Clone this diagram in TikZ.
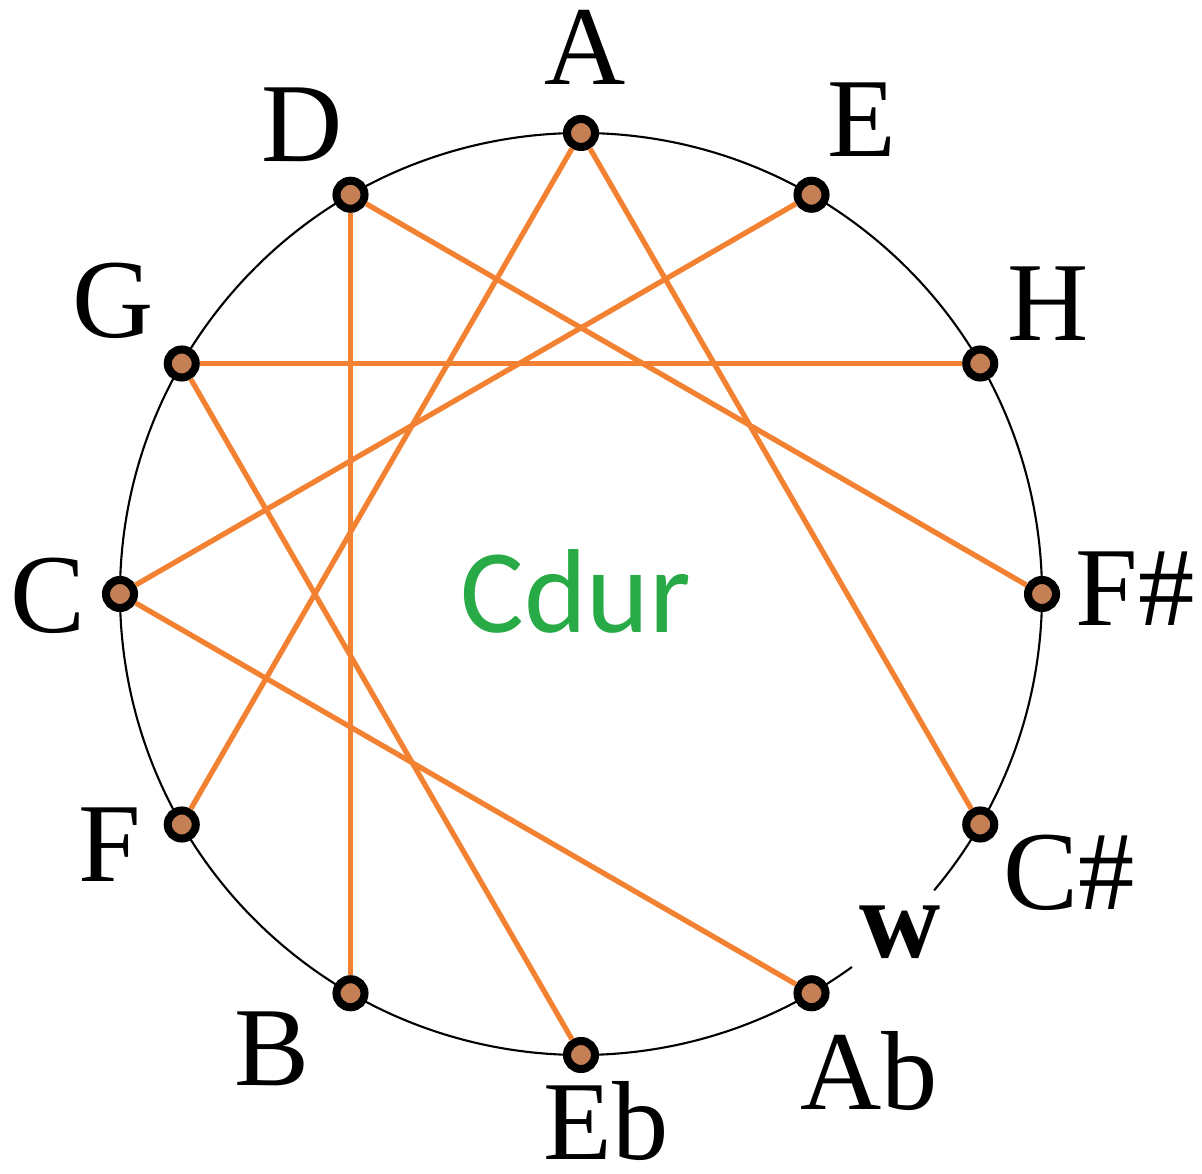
\documentclass[tikz,border=0pt]{standalone}
\usepackage{fontspec}
\setmainfont{Liberation Serif}
\newfontfamily\keyfont{Carlito}
\usepackage{xcolor}
\usepackage{tikz}

\definecolor{linkorange}{RGB}{242,130,50}
\definecolor{tonebrown}{RGB}{196,128,84}
\definecolor{keygreen}{RGB}{40,170,70}

\begin{document}
\begin{tikzpicture}[
    tone/.style={
        draw,
        circle,
        fill=tonebrown,
        line width=2.3pt,
        minimum size=0.28cm,
        inner sep=0pt
    },
    lbl/.style={
        inner sep=0pt,
        font=\fontsize{32}{38}\selectfont
    },
    link/.style={draw=linkorange, line width=1.5pt}
]

\useasboundingbox (-5.81,-5.79) rectangle (6.21,5.94);

% ring, open where the w sits
\draw[line width=0.6pt] (-40:4.61) arc[start angle=-40, end angle=306, radius=4.61];

\foreach \n/\a in {A/90, E/60, H/30, Fis/0, Cis/-30, Ab/-60,
                   Eb/-90, B/-120, F/-150, C/180, G/150, D/120}
    \node[tone] (\n) at (\a:4.61) {};

\draw[link] (A) -- (Cis);
\draw[link] (A) -- (F);
\draw[link] (D) -- (B);
\draw[link] (D) -- (Fis);
\draw[link] (E) -- (C);
\draw[link] (G) -- (H);
\draw[link] (G) -- (Eb);
\draw[link] (C) -- (Ab);

\node[lbl] (lA)   at (0.04,5.47)   {A};
\node[lbl] (lD)   at (-2.79,4.69)  {D};
\node[lbl] (lE)   at (2.81,4.74)   {E};
\node[lbl] (lG)   at (-4.68,2.93)  {G};
\node[lbl] (lH)   at (4.67,2.90)   {H};
\node[lbl] (lC)   at (-5.33,-0.02) {C};
\node[lbl] (lFis) at (5.54,0.05)   {F\#};
\node[lbl] (lF)   at (-4.71,-2.51) {F};
\node[lbl] (lCis) at (4.88,-2.79)  {C\#};
\node[lbl] (lB)   at (-3.09,-4.55) {B};
\node[lbl] (lEb)  at (0.25,-5.27)  {Eb};
\node[lbl] (lAb)  at (2.88,-4.77)  {Ab};
\node[lbl, font=\fontsize{32}{38}\selectfont\bfseries] (lw) at (3.19,-3.38) {w};

\node[font=\keyfont\fontsize{34}{40}\selectfont, text=keygreen] (key) at (-0.05,0.03) {Cdur};

\end{tikzpicture}
\end{document}
